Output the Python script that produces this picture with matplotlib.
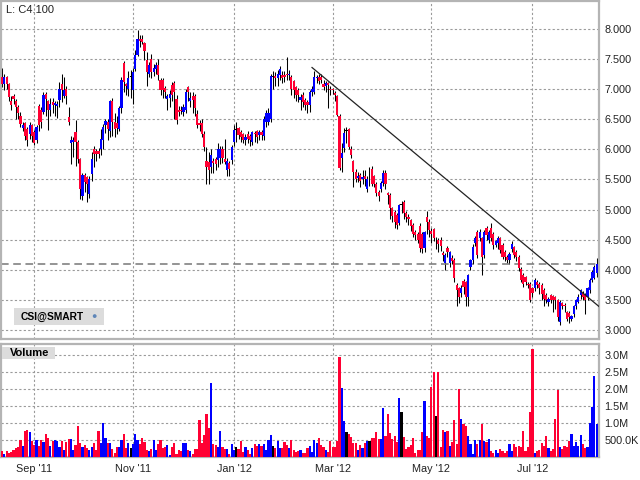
import matplotlib
matplotlib.use("Agg")
import matplotlib.pyplot as plt
import numpy as np
import pandas as pd
from matplotlib.patches import Rectangle
from matplotlib.ticker import FixedLocator, FuncFormatter

plt.rcParams["font.family"] = ["Liberation Sans", "DejaVu Sans"]

# daily bars, 2011-08-12 .. 2012-08-09 (one line per month pair)
opens = [
    7.21, 7.08, 7.21, 7.08, 6.80, 6.88, 6.80, 6.70, 6.56, 6.36, 6.43, 6.34, 6.26, 6.40,
    6.29, 6.15, 6.72, 6.65, 6.62, 6.92, 6.80, 6.65, 6.79, 6.73, 6.72, 6.82, 7.08, 6.89, 7.00, 6.54,
    6.11, 6.12, 6.29, 6.12, 5.84, 5.23, 5.58, 5.54, 5.26, 5.59, 6.00, 5.97, 5.98, 6.00, 6.15, 6.41,
    6.46, 6.30, 6.80, 6.45, 6.44, 6.34, 6.68, 7.44, 7.08, 7.01, 7.20,
    6.98, 7.34, 7.57, 7.84, 7.84, 7.76, 7.48, 7.26, 7.50, 7.28, 7.33, 7.41, 7.15, 7.15, 7.02, 6.84,
    6.86, 7.07, 7.10, 6.84, 6.66, 6.66, 6.62, 6.65, 7.04, 6.80, 6.89, 6.89, 6.59, 6.44, 6.44, 6.26,
    5.80, 5.79, 5.71, 5.80, 5.84, 5.82, 5.85, 6.00, 5.84, 5.65, 5.77, 5.82,
    6.12, 6.33, 6.36, 6.29, 6.26, 6.15, 6.26, 6.23, 6.12, 6.27, 6.31, 6.24, 6.29, 6.23, 6.46, 6.46,
    6.51, 7.20, 7.22, 7.18, 7.23, 7.23, 7.24, 7.26, 7.23, 7.20, 7.13, 7.04, 6.98, 6.82, 6.90, 6.82,
    6.79, 6.73, 6.96, 6.96, 7.18, 7.21, 7.21, 7.08, 7.05, 7.10, 7.00,
    7.00, 6.94, 6.88, 6.56, 5.85, 6.02, 6.30, 6.34, 6.00, 5.80, 5.63, 5.53, 5.57, 5.50, 5.56, 5.35,
    5.55, 5.68, 5.55, 5.43, 5.30, 5.35, 5.44, 5.61, 5.28, 5.25, 5.03, 4.96, 4.91, 4.78, 5.08, 5.12,
    4.94, 4.88, 4.83, 4.75, 4.62, 4.59, 4.73, 4.59, 4.37, 4.88, 4.80,
    4.65, 4.67, 4.47, 4.49, 4.49, 4.28, 4.11, 4.36, 4.11, 4.20, 4.17, 3.75, 3.69, 3.62, 3.81, 3.80,
    3.55, 4.05, 4.16, 4.44, 4.63, 4.52, 4.52, 4.25, 4.69, 4.49, 4.69, 4.60, 4.41, 4.44, 4.52, 4.41,
    4.30, 4.22, 4.16, 4.35, 4.38, 4.30, 4.22, 4.02, 3.91, 3.88, 3.77, 3.77,
    3.69, 3.69, 3.80, 3.77, 3.74, 3.66, 3.58, 3.47, 3.58, 3.56, 3.55, 3.50, 3.14, 3.44, 3.42, 3.30,
    3.29, 3.19, 3.26, 3.39, 3.47, 3.58, 3.61, 3.58, 3.55, 3.66, 3.83, 3.86, 3.94,
]
highs = [
    7.35, 7.25, 7.22, 7.10, 6.88, 6.92, 6.84, 6.74, 6.62, 6.45, 6.46, 6.38, 6.45, 6.42,
    6.32, 6.40, 6.75, 6.70, 6.95, 6.95, 6.82, 6.85, 6.85, 6.80, 6.80, 7.12, 7.25, 7.20, 7.05, 6.70,
    6.23, 6.20, 6.48, 6.15, 5.86, 5.60, 5.60, 5.56, 5.55, 5.95, 6.05, 6.00, 6.02, 6.34, 6.42, 6.50,
    6.50, 6.82, 6.85, 6.60, 6.55, 6.72, 7.20, 7.46, 7.10, 7.30, 7.32,
    7.35, 7.65, 7.98, 7.90, 7.90, 7.78, 7.62, 7.45, 7.58, 7.42, 7.45, 7.50, 7.18, 7.18, 7.05, 6.92,
    6.98, 7.12, 7.14, 6.90, 6.72, 6.72, 6.76, 7.00, 7.05, 6.95, 6.95, 6.92, 6.65, 6.48, 6.50, 6.30,
    6.04, 5.95, 6.00, 5.85, 5.88, 6.10, 6.05, 6.05, 6.17, 5.85, 5.80, 6.08,
    6.40, 6.45, 6.38, 6.32, 6.28, 6.25, 6.30, 6.26, 6.30, 6.30, 6.33, 6.33, 6.32, 6.55, 6.65, 6.68,
    7.25, 7.30, 7.28, 7.32, 7.38, 7.30, 7.30, 7.54, 7.32, 7.24, 7.16, 7.06, 7.02, 6.92, 6.95, 6.85,
    6.82, 6.98, 7.05, 7.30, 7.24, 7.26, 7.26, 7.15, 7.14, 7.12, 7.05,
    7.02, 6.97, 6.90, 6.58, 6.10, 6.35, 6.37, 6.36, 6.05, 5.82, 5.68, 5.62, 5.60, 5.65, 5.65, 5.55,
    5.70, 5.72, 5.58, 5.46, 5.32, 5.48, 5.66, 5.66, 5.30, 5.27, 5.05, 5.00, 4.95, 5.10, 5.15, 5.16,
    4.98, 4.92, 4.85, 4.78, 4.66, 4.62, 4.78, 4.62, 4.65, 4.97, 4.85,
    4.70, 4.70, 4.55, 4.52, 4.55, 4.32, 4.28, 4.40, 4.32, 4.25, 4.20, 3.78, 3.72, 3.75, 3.85, 3.82,
    3.93, 4.18, 4.42, 4.56, 4.66, 4.68, 4.55, 4.66, 4.72, 4.66, 4.78, 4.62, 4.50, 4.56, 4.55, 4.44,
    4.33, 4.25, 4.30, 4.48, 4.40, 4.33, 4.25, 4.05, 3.94, 3.90, 3.80, 3.80,
    3.72, 3.87, 3.83, 3.80, 3.78, 3.70, 3.62, 3.55, 3.60, 3.58, 3.57, 3.52, 3.50, 3.47, 3.45, 3.32,
    3.31, 3.25, 3.41, 3.52, 3.60, 3.68, 3.65, 3.62, 3.72, 3.86, 4.00, 4.08, 4.19,
]
lows = [
    7.03, 6.98, 7.00, 6.80, 6.65, 6.75, 6.50, 6.50, 6.37, 6.30, 6.15, 6.05, 6.18, 6.12,
    6.07, 6.10, 6.30, 6.35, 6.58, 6.55, 6.32, 6.55, 6.60, 6.55, 6.52, 6.70, 6.78, 6.85, 6.76, 6.40,
    5.76, 5.87, 5.73, 5.77, 5.18, 5.16, 5.30, 5.12, 5.20, 5.48, 5.70, 5.80, 5.85, 5.90, 6.00, 6.28,
    6.15, 6.20, 6.23, 6.20, 6.25, 6.30, 6.60, 6.95, 6.90, 6.88, 6.85,
    6.75, 7.30, 7.55, 7.70, 7.75, 7.48, 7.05, 7.20, 7.18, 7.22, 7.25, 7.15, 6.90, 6.85, 6.85, 6.65,
    6.70, 6.80, 6.50, 6.42, 6.55, 6.58, 6.55, 6.60, 6.80, 6.70, 6.60, 6.55, 6.35, 6.30, 6.20, 5.98,
    5.42, 5.42, 5.60, 5.60, 5.66, 5.70, 5.75, 5.78, 5.75, 5.55, 5.55, 5.75,
    6.05, 6.12, 6.18, 6.12, 6.10, 6.08, 6.10, 6.05, 6.08, 6.12, 6.10, 6.15, 6.15, 6.15, 6.38, 6.40,
    6.45, 7.00, 7.05, 7.05, 7.15, 7.10, 7.12, 7.15, 7.15, 6.90, 6.85, 6.80, 6.78, 6.65, 6.70, 6.65,
    6.60, 6.62, 6.88, 6.92, 7.10, 7.08, 7.10, 6.98, 6.95, 6.68, 6.90,
    6.92, 6.80, 6.55, 5.65, 5.63, 5.95, 6.10, 6.00, 5.85, 5.38, 5.45, 5.45, 5.38, 5.42, 5.40, 5.30,
    5.40, 5.40, 5.38, 5.22, 5.15, 5.30, 5.40, 5.35, 5.10, 4.85, 4.80, 4.70, 4.68, 4.75, 4.95, 4.85,
    4.80, 4.75, 4.65, 4.55, 4.50, 4.45, 4.30, 4.28, 4.30, 4.60, 4.55,
    4.45, 4.48, 4.35, 4.30, 4.32, 4.15, 4.00, 4.22, 4.05, 4.10, 3.80, 3.39, 3.45, 3.55, 3.60, 3.39,
    3.39, 4.00, 4.10, 4.40, 4.20, 4.48, 3.92, 4.20, 4.50, 4.45, 4.48, 4.35, 4.38, 4.35, 4.28, 4.18,
    4.15, 4.12, 4.10, 4.30, 4.20, 4.15, 3.98, 3.80, 3.72, 3.75, 3.70, 3.47,
    3.55, 3.65, 3.70, 3.60, 3.50, 3.40, 3.45, 3.40, 3.45, 3.30, 3.35, 3.15, 3.08, 3.35, 3.30, 3.15,
    3.12, 3.15, 3.22, 3.35, 3.44, 3.52, 3.50, 3.27, 3.50, 3.62, 3.80, 3.84, 3.88,
]
closes = [
    7.08, 7.21, 7.09, 6.87, 6.73, 6.83, 6.71, 6.60, 6.42, 6.41, 6.23, 6.15, 6.40, 6.23,
    6.11, 6.37, 6.40, 6.46, 6.90, 6.83, 6.65, 6.76, 6.74, 6.77, 6.76, 7.00, 6.98, 6.98, 6.89, 6.45,
    6.15, 6.15, 6.12, 5.84, 5.34, 5.58, 5.46, 5.43, 5.51, 5.84, 5.93, 5.92, 5.93, 6.18, 6.37, 6.47,
    6.34, 6.80, 6.46, 6.34, 6.35, 6.68, 7.15, 7.12, 7.05, 7.18, 7.20,
    7.29, 7.57, 7.84, 7.80, 7.79, 7.63, 7.29, 7.40, 7.29, 7.36, 7.41, 7.24, 6.98, 6.98, 6.95, 6.89,
    6.92, 6.90, 6.96, 6.48, 6.62, 6.63, 6.70, 6.96, 6.96, 6.86, 6.82, 6.68, 6.40, 6.40, 6.26, 6.04,
    5.71, 5.65, 5.90, 5.78, 5.76, 6.01, 6.00, 5.85, 5.79, 5.80, 5.68, 6.04,
    6.33, 6.33, 6.24, 6.21, 6.15, 6.20, 6.18, 6.15, 6.29, 6.25, 6.21, 6.29, 6.24, 6.50, 6.61, 6.61,
    7.22, 7.20, 7.19, 7.26, 7.34, 7.18, 7.20, 7.23, 7.26, 7.01, 6.98, 6.90, 6.90, 6.87, 6.79, 6.74,
    6.73, 6.96, 7.00, 7.21, 7.21, 7.13, 7.15, 7.04, 7.10, 7.07, 6.98,
    6.98, 6.90, 6.57, 5.69, 5.94, 6.27, 6.30, 6.04, 5.91, 5.62, 5.50, 5.56, 5.48, 5.54, 5.50, 5.50,
    5.55, 5.43, 5.43, 5.27, 5.23, 5.44, 5.61, 5.42, 5.25, 5.03, 4.89, 4.80, 4.75, 5.08, 5.08, 4.95,
    4.88, 4.85, 4.72, 4.59, 4.58, 4.50, 4.37, 4.34, 4.62, 4.80, 4.66,
    4.60, 4.53, 4.47, 4.43, 4.40, 4.25, 4.25, 4.30, 4.30, 4.15, 3.86, 3.66, 3.55, 3.70, 3.72, 3.55,
    3.91, 4.16, 4.38, 4.52, 4.25, 4.63, 4.22, 4.63, 4.58, 4.63, 4.52, 4.41, 4.47, 4.52, 4.33, 4.22,
    4.22, 4.16, 4.27, 4.43, 4.25, 4.22, 4.03, 3.83, 3.77, 3.80, 3.74, 3.50,
    3.61, 3.83, 3.74, 3.69, 3.60, 3.52, 3.50, 3.52, 3.50, 3.50, 3.50, 3.22, 3.47, 3.39, 3.39, 3.19,
    3.21, 3.23, 3.39, 3.50, 3.55, 3.66, 3.55, 3.50, 3.69, 3.83, 3.97, 4.05, 4.10,
]
# volume in millions of shares
volumes = [
    0.17, 0.10, 0.17, 0.13, 0.16, 0.20, 0.25, 0.28, 0.50, 0.32, 0.76, 0.79, 0.72, 0.47,
    0.35, 0.50, 0.32, 0.50, 0.45, 0.67, 0.56, 0.32, 0.47, 0.50, 0.48, 0.30, 0.47, 0.20, 0.44, 0.54,
    0.52, 0.20, 0.35, 0.90, 0.40, 0.30, 0.35, 0.27, 0.20, 0.28, 0.40, 0.20, 0.76, 0.42, 1.01, 0.57,
    0.40, 0.40, 0.23, 0.13, 0.28, 0.30, 0.51, 0.69, 0.27, 0.40, 0.27,
    0.38, 0.69, 0.50, 0.38, 0.57, 0.45, 0.20, 0.17, 0.23, 0.50, 0.22, 0.37, 0.50, 0.25, 0.28, 0.35,
    0.06, 0.30, 0.40, 0.10, 0.20, 0.17, 0.40, 0.42, 0.22, 0.17, 0.10, 0.23, 0.23, 1.10, 0.42, 0.64,
    1.25, 0.86, 2.16, 0.38, 0.35, 0.28, 0.76, 0.29, 0.23, 0.23, 0.08, 0.38,
    0.20, 0.28, 0.23, 0.47, 0.16, 0.30, 0.20, 0.09, 0.26, 0.38, 0.32, 0.37, 0.32, 0.37, 0.20, 0.50,
    0.64, 0.32, 0.26, 0.46, 0.26, 0.25, 0.44, 0.34, 0.26, 0.50, 0.20, 0.14, 0.17, 0.22, 0.11, 0.11,
    0.26, 0.32, 0.16, 0.50, 0.40, 0.55, 0.35, 0.30, 0.20, 0.16, 0.47,
    0.28, 0.28, 0.47, 2.94, 2.04, 1.05, 0.73, 0.67, 0.60, 0.41, 0.41, 0.20, 0.34, 0.26, 0.40, 0.47,
    0.47, 0.57, 0.57, 0.73, 0.52, 0.53, 1.43, 0.62, 1.25, 0.70, 0.54, 0.61, 0.45, 1.72, 1.32, 0.58,
    0.23, 0.30, 0.35, 0.55, 0.13, 0.20, 0.20, 0.73, 1.66, 0.61, 0.55,
    2.07, 2.49, 1.19, 2.50, 0.29, 0.79, 0.73, 0.76, 0.32, 0.44, 1.10, 0.38, 2.00, 1.13, 0.96, 0.90,
    0.61, 0.38, 0.09, 0.50, 0.38, 0.50, 0.96, 0.47, 0.44, 0.52, 0.17, 0.12, 0.20, 0.12, 0.23, 0.17,
    0.12, 0.17, 0.38, 0.17, 0.38, 0.29, 0.32, 0.29, 0.76, 0.17, 0.29, 1.31,
    3.16, 0.12, 0.17, 0.20, 0.41, 0.32, 0.61, 0.26, 0.17, 0.23, 1.13, 1.98, 0.29, 0.23, 0.32, 0.29,
    0.47, 0.67, 0.32, 0.45, 0.32, 0.64, 0.38, 0.26, 0.30, 0.99, 1.48, 2.39, 0.96,
]

# hand-drawn resistance line
trend_dates = ["2012-02-17", "2012-08-10"]
trend_prices = [7.36, 3.39]

price_ticks = [3.0, 3.5, 4.0, 4.5, 5.0, 5.5, 6.0, 6.5, 7.0, 7.5, 8.0]
volume_ticks = [0.5, 1.0, 1.5, 2.0, 2.5, 3.0]

UP = "#0000ff"
DOWN = "#ff0033"
GRID = "#9a9a9a"
FRAME = "#b4b4b4"
TAG = "#dcdcdc"

dates = pd.bdate_range("2011-08-12", "2012-08-09")
o = np.array(opens)
h = np.array(highs)
lo = np.array(lows)
c = np.array(closes)
v = np.array(volumes)
n = min(len(dates), len(c))
dates, o, h, lo, c, v = dates[:n], o[:n], h[:n], lo[:n], c[:n], v[:n]
x = np.arange(n)

colors = np.where(c > o, UP, np.where(c < o, DOWN, "black"))

# first trading day of every second month
month_pos = [i for i in range(1, n) if dates[i].month != dates[i - 1].month and dates[i].month % 2 == 1]
month_lbl = [dates[i].strftime("%b '%y") for i in month_pos]

W, H = 640, 480
fig = plt.figure(figsize=(6.4, 4.8), dpi=100)
ax = fig.add_axes([1 / W, 1 - 339 / H, 598 / W, 338 / H])
axv = fig.add_axes([1 / W, 1 - 457 / H, 598 / W, 113 / H], sharex=ax)

for a in (ax, axv):
    for s in a.spines.values():
        s.set_color(FRAME)
        s.set_linewidth(1.6)
    a.yaxis.tick_right()
    a.tick_params(length=0, labelsize=7.8, pad=4, colors="#222222")
    a.xaxis.set_major_locator(FixedLocator(month_pos))
    a.grid(True, color=GRID, linestyle=(0, (2, 2)), linewidth=0.8)
    a.set_axisbelow(True)

# candles
ax.vlines(x, lo, h, color="black", linewidth=0.75, zorder=2)
body_lo = np.minimum(o, c)
body_h = np.maximum(np.abs(c - o), 0.015)
ax.bar(x, body_h, bottom=body_lo, width=0.95, color=colors, linewidth=0, zorder=3,
       antialiased=False)

ax.axhline(c[-1], color="#777777", linestyle=(0, (5, 3)), linewidth=1.1, zorder=2)
tx = [np.busday_count(dates[0].date(), pd.Timestamp(d).date()) for d in trend_dates]
ax.plot(tx, trend_prices, color="#222222", linewidth=0.9, zorder=4)

ax.set_xlim(-0.48, 260.0)
ax.set_ylim(2.85, 8.465)
ax.yaxis.set_major_locator(FixedLocator(price_ticks))
ax.yaxis.set_major_formatter(FuncFormatter(lambda val, _: f"{val:.3f}"))
ax.tick_params(axis="x", labelbottom=False)

# volume
axv.bar(x, v, width=0.95, color=colors, linewidth=0, zorder=3, antialiased=False)
axv.set_ylim(0, 3.32)
axv.yaxis.set_major_locator(FixedLocator(volume_ticks))
axv.yaxis.set_major_formatter(
    FuncFormatter(lambda val, _: f"{val:.1f}M" if val >= 1 else f"{val * 1000:.1f}K")
)
axv.set_xticklabels(month_lbl)
axv.tick_params(axis="x", pad=5)

# labels
fig.text(6 / W, 1 - 10 / H, f"L: C{c[-1]:.3f}", fontsize=8, va="center", ha="left", color="#222222")

fig.patches.append(Rectangle((14 / W, 1 - 325 / H), 90 / W, 17 / H, transform=fig.transFigure,
                             facecolor=TAG, edgecolor="none", zorder=5))
fig.text(21 / W, 1 - 316.5 / H, "CSI@SMART", fontsize=7.4, fontweight="bold", va="center", ha="left",
         zorder=6)
fig.text(91 / W, 1 - 317 / H, "\u25cf", fontsize=6.5, va="center", ha="left", color="#5f86b8", zorder=6)

fig.patches.append(Rectangle((2 / W, 1 - 359 / H), 53 / W, 12 / H, transform=fig.transFigure,
                             facecolor=TAG, edgecolor="none", zorder=5))
fig.text(10 / W, 1 - 352.5 / H, "Volume", fontsize=8, fontweight="bold", va="center", ha="left",
         zorder=6)

fig.savefig("out.png", dpi=100)
plt.close(fig)
